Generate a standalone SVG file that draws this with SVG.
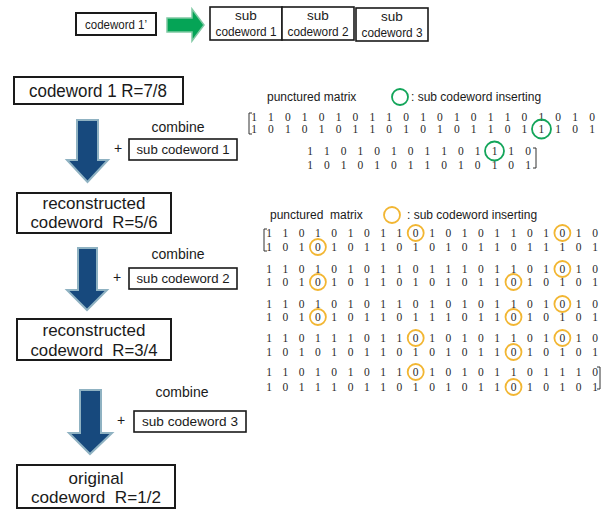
<svg xmlns="http://www.w3.org/2000/svg" width="608" height="510" viewBox="0 0 608 510">
<defs>
<style>
.box{fill:#fff;stroke:#1a1a1a;stroke-width:2}
.sbox{fill:#fff;stroke:#1a1a1a;stroke-width:1.6}
.t{font-family:"Liberation Sans",Arial,sans-serif;fill:#1a1a1a;text-anchor:middle}
.lab{font-family:"Liberation Sans",Arial,sans-serif;fill:#1a1a1a;font-size:12px}
.d{font-family:"Liberation Serif","Times New Roman",serif;font-size:11.5px;fill:#2a2a2a;text-anchor:middle}
.big{fill:#17497d;stroke:#8fb2c2;stroke-width:2}
.gc{fill:none;stroke:#13a55a;stroke-width:1.8}
.yc{fill:none;stroke:#f2b632;stroke-width:1.8}
.br{fill:none;stroke:#333;stroke-width:1}
</style>
</defs>

<g id="codeword1prime">
<rect class="box" x="76" y="13" width="80" height="22"/>
<text class="t" x="116" y="29" font-size="13.5" textLength="62" lengthAdjust="spacingAndGlyphs">codeword 1’</text>
</g>

<g id="connectors">
<path d="M167,18 L192,18 L192,9 L204,25 L192,41 L192,32 L167,32 Z" fill="#05a456" stroke="#7fc9a3" stroke-width="1.5"/>
<path class="big" d="M77,120 L98,120 L98,160 L108,160 L87.5,182 L67,160 L77,160 Z"/>
<path class="big" d="M78,248 L97,248 L97,290 L107,290 L87,310 L67,290 L78,290 Z"/>
<path class="big" d="M80,390 L101,390 L101,433 L112,433 L90,454 L69,433 L80,433 Z"/>
</g>

<g id="subcodewords">
<rect class="sbox" x="210" y="7" width="72" height="33"/>
<text class="t" x="246" y="20" font-size="13.5">sub</text>
<text class="t" x="246" y="36" font-size="13.5" textLength="61" lengthAdjust="spacingAndGlyphs">codeword 1</text>
<rect class="sbox" x="282" y="7" width="72" height="33"/>
<text class="t" x="318" y="20" font-size="13.5">sub</text>
<text class="t" x="318" y="36" font-size="13.5" textLength="61" lengthAdjust="spacingAndGlyphs">codeword 2</text>
<rect class="sbox" x="356" y="8" width="72" height="33"/>
<text class="t" x="392" y="21" font-size="13.5">sub</text>
<text class="t" x="392" y="37" font-size="13.5" textLength="61" lengthAdjust="spacingAndGlyphs">codeword 3</text>
</g>

<g id="codeword1">
<rect class="box" x="14" y="77" width="169" height="27"/>
<text class="t" x="98" y="97" font-size="18" textLength="138" lengthAdjust="spacingAndGlyphs">codeword 1 R=7/8</text>
</g>

<g id="combine1">
<text class="t" x="178" y="132" font-size="14">combine</text>
<text class="t" x="118" y="153" font-size="14">+</text>
<rect class="sbox" x="129" y="139" width="108" height="21"/>
<text class="t" x="183" y="154" font-size="13" textLength="93" lengthAdjust="spacingAndGlyphs">sub codeword 1</text>
</g>

<g id="recon56">
<rect class="box" x="17" y="193" width="154" height="40"/>
<text class="t" x="94" y="209" font-size="17">reconstructed</text>
<text class="t" x="94" y="228" font-size="17" xml:space="preserve" textLength="127" lengthAdjust="spacingAndGlyphs">codeword  R=5/6</text>
</g>

<g id="combine2">
<text class="t" x="178" y="259" font-size="14">combine</text>
<text class="t" x="117" y="282" font-size="14">+</text>
<rect class="sbox" x="129" y="268" width="108" height="21"/>
<text class="t" x="183" y="283" font-size="13" textLength="93" lengthAdjust="spacingAndGlyphs">sub codeword 2</text>
</g>

<g id="recon34">
<rect class="box" x="17" y="319" width="154" height="41"/>
<text class="t" x="94" y="336" font-size="17">reconstructed</text>
<text class="t" x="94" y="356" font-size="17" xml:space="preserve" textLength="127" lengthAdjust="spacingAndGlyphs">codeword  R=3/4</text>
</g>

<g id="combine3">
<text class="t" x="182" y="397" font-size="14">combine</text>
<text class="t" x="121" y="425" font-size="14">+</text>
<rect class="sbox" x="134" y="411" width="112" height="21"/>
<text class="t" x="190" y="426" font-size="13" textLength="96" lengthAdjust="spacingAndGlyphs">sub codeword 3</text>
</g>

<g id="original12">
<rect class="box" x="17" y="465" width="158" height="43"/>
<text class="t" x="96" y="484" font-size="17">original</text>
<text class="t" x="96" y="503" font-size="17" xml:space="preserve" textLength="130" lengthAdjust="spacingAndGlyphs">codeword  R=1/2</text>
</g>

<g id="matrix1">
<text class="lab" x="267" y="101">punctured matrix</text>
<circle class="gc" cx="400" cy="97" r="8"/>
<text class="lab" x="411" y="101">: sub codeword inserting</text>
<path class="br" d="M252,113 L249,113 L249,134 L252,134"/>
<text class="d" x="254 270.9 287.8 304.7 321.6 338.5 355.4 372.3 389.2 406.1 423 439.9 456.8 473.7 490.6 507.5 524.4 541.3 558.2 575.1 592" y="121">110101011010101101010</text>
<text class="d" x="254 270.9 287.8 304.7 321.6 338.5 355.4 372.3 389.2 406.1 423 439.9 456.8 473.7 490.6 507.5 524.4 541.3 558.2 575.1 592" y="133">101010110101011011101</text>
<text class="d" x="310 326.8 343.5 360.3 377.1 393.8 410.6 427.4 444.2 460.9 477.7 494.5 511.2 528" y="155">11010101101110</text>
<text class="d" x="310 326.8 343.5 360.3 377.1 393.8 410.6 427.4 444.2 460.9 477.7 494.5 511.2 528" y="169">10101011010101</text>
<path class="br" d="M533,148 L536,148 L536,168 L533,168"/>
<circle class="gc" cx="541.5" cy="129" r="9.5"/>
<circle class="gc" cx="494.5" cy="151" r="9.5"/>
</g>

<g id="matrix2">
<text class="lab" x="270" y="219" xml:space="preserve">punctured  matrix</text>
<circle class="yc" cx="392" cy="215" r="8"/>
<text class="lab" x="407" y="219">: sub codeword inserting</text>
<path class="br" d="M267,229 L264,229 L264,251 L267,251"/>
<path class="br" d="M597,367 L600,367 L600,389 L597,389"/>
<g class="d">
<text x="269 285.3 301.6 317.9 334.2 350.5 366.8 383.1 399.4 415.7 432 448.3 464.6 480.9 497.2 513.5 529.8 546.1 562.4 578.7 595" y="237">110101011010101101010</text>
<text x="269 285.3 301.6 317.9 334.2 350.5 366.8 383.1 399.4 415.7 432 448.3 464.6 480.9 497.2 513.5 529.8 546.1 562.4 578.7 595" y="251">101010110101011011101</text>
<text x="269 285.3 301.6 317.9 334.2 350.5 366.8 383.1 399.4 415.7 432 448.3 464.6 480.9 497.2 513.5 529.8 546.1 562.4 578.7 595" y="273">110101011011101101010</text>
<text x="269 285.3 301.6 317.9 334.2 350.5 366.8 383.1 399.4 415.7 432 448.3 464.6 480.9 497.2 513.5 529.8 546.1 562.4 578.7 595" y="286">101010110101011010101</text>
<text x="269 285.3 301.6 317.9 334.2 350.5 366.8 383.1 399.4 415.7 432 448.3 464.6 480.9 497.2 513.5 529.8 546.1 562.4 578.7 595" y="308">110101011010101101010</text>
<text x="269 285.3 301.6 317.9 334.2 350.5 366.8 383.1 399.4 415.7 432 448.3 464.6 480.9 497.2 513.5 529.8 546.1 562.4 578.7 595" y="321">101010110111011010101</text>
<text x="269 285.3 301.6 317.9 334.2 350.5 366.8 383.1 399.4 415.7 432 448.3 464.6 480.9 497.2 513.5 529.8 546.1 562.4 578.7 595" y="342">110111011010101101010</text>
<text x="269 285.3 301.6 317.9 334.2 350.5 366.8 383.1 399.4 415.7 432 448.3 464.6 480.9 497.2 513.5 529.8 546.1 562.4 578.7 595" y="356">101010110101011010101</text>
<text x="269 285.3 301.6 317.9 334.2 350.5 366.8 383.1 399.4 415.7 432 448.3 464.6 480.9 497.2 513.5 529.8 546.1 562.4 578.7 595" y="376">110101011010101101110</text>
<text x="269 285.3 301.6 317.9 334.2 350.5 366.8 383.1 399.4 415.7 432 448.3 464.6 480.9 497.2 513.5 529.8 546.1 562.4 578.7 595" y="391">101110110101011010101</text>
</g>
<circle class="yc" cx="415.7" cy="233" r="8"/>
<circle class="yc" cx="562.4" cy="233" r="8"/>
<circle class="yc" cx="317.9" cy="247" r="8"/>
<circle class="yc" cx="562.4" cy="269" r="8"/>
<circle class="yc" cx="317.9" cy="282" r="8"/>
<circle class="yc" cx="513.5" cy="282" r="8"/>
<circle class="yc" cx="562.4" cy="304" r="8"/>
<circle class="yc" cx="317.9" cy="317" r="8"/>
<circle class="yc" cx="513.5" cy="317" r="8"/>
<circle class="yc" cx="415.7" cy="338" r="8"/>
<circle class="yc" cx="562.4" cy="338" r="8"/>
<circle class="yc" cx="513.5" cy="352" r="8"/>
<circle class="yc" cx="415.7" cy="372" r="8"/>
<circle class="yc" cx="513.5" cy="387" r="8"/>
</g>
</svg>
